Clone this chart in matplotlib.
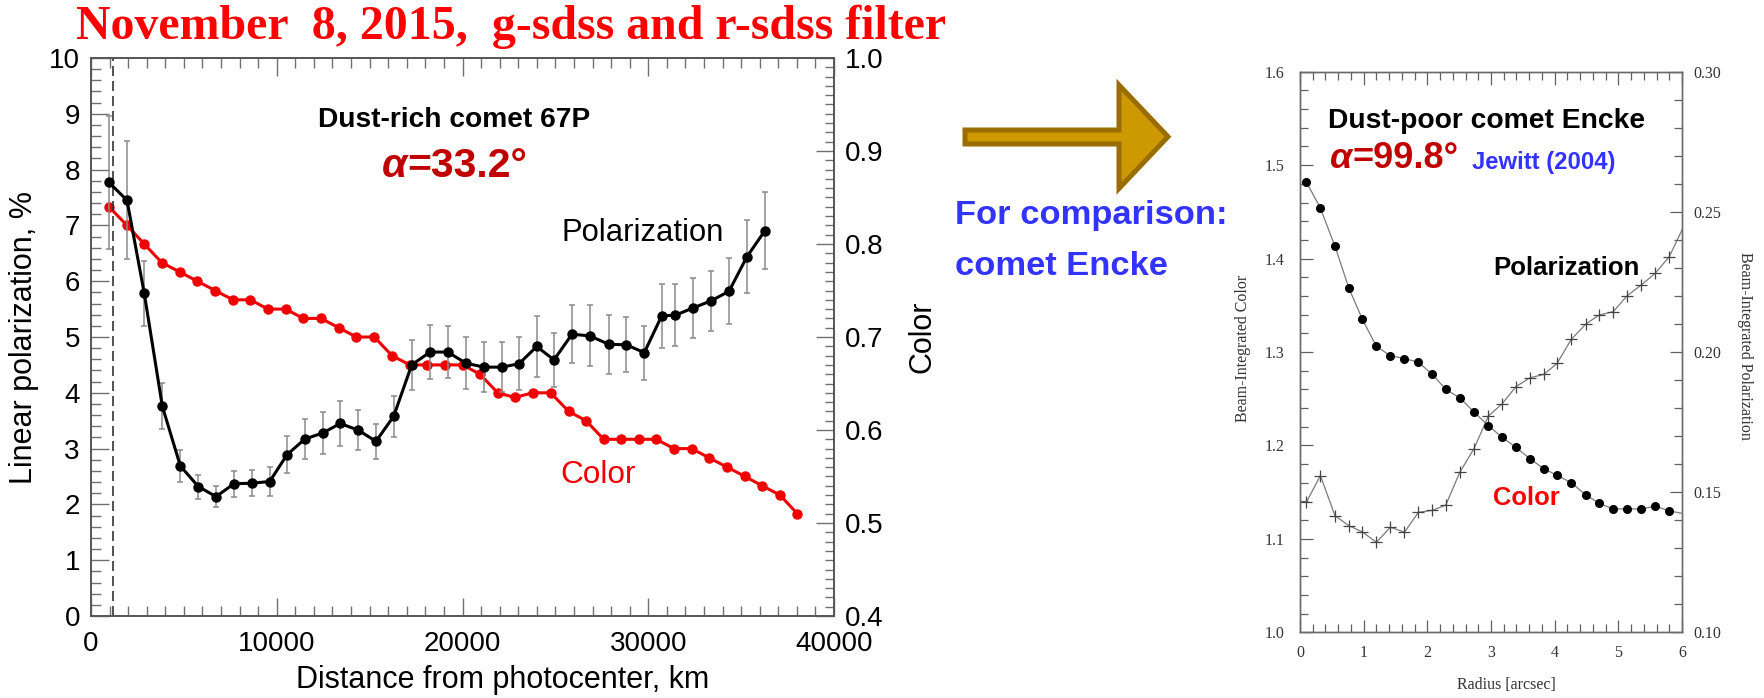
import matplotlib
matplotlib.use("Agg")
import matplotlib.pyplot as plt
from matplotlib.ticker import MultipleLocator, FormatStrFormatter
from matplotlib.patches import Polygon
from matplotlib import font_manager as fm

# ---------------- data: comet 67P (left panel) ----------------
pol_km = [969, 1938, 2869, 3839, 4808, 5777, 6730, 7699, 8668, 9620,
          10552, 11505, 12474, 13421, 14390, 15343, 16296, 17265, 18250, 19203,
          20189, 21158, 22111, 23042, 23995, 24926, 25895, 26848, 27871, 28818,
          29787, 30724, 31457, 32409, 33395, 34347, 35316, 36269]
pol_val = [7.77, 7.45, 5.78, 3.76, 2.69, 2.32, 2.14, 2.37, 2.38, 2.41,
           2.89, 3.17, 3.28, 3.45, 3.33, 3.13, 3.58, 4.50, 4.73, 4.73,
           4.53, 4.46, 4.46, 4.52, 4.83, 4.59, 5.05, 5.02, 4.87, 4.86,
           4.72, 5.38, 5.39, 5.52, 5.65, 5.82, 6.44, 6.90]
pol_err = [1.19, 1.06, 0.59, 0.41, 0.29, 0.215, 0.195, 0.23, 0.23, 0.255,
           0.33, 0.36, 0.375, 0.395, 0.36, 0.315, 0.37, 0.455, 0.49, 0.47,
           0.465, 0.445, 0.445, 0.475, 0.55, 0.48, 0.515, 0.545, 0.525, 0.49,
           0.485, 0.575, 0.56, 0.545, 0.54, 0.59, 0.655, 0.69]

col_km = [969, 1938, 2869, 3806, 4775, 5723, 6676, 7645, 8576, 9529,
          10482, 11429, 12382, 13335, 14283, 15252, 16205, 17158, 18105, 19058,
          20011, 20942, 21895, 22826, 23779, 24748, 25717, 26649, 27602, 28549,
          29486, 30434, 31386, 32339, 33287, 34256, 35209, 36140, 37093, 38025]
col_val = [0.840, 0.820, 0.800, 0.780, 0.770, 0.760, 0.750, 0.740, 0.740, 0.730,
           0.730, 0.720, 0.720, 0.710, 0.700, 0.700, 0.680, 0.670, 0.670, 0.670,
           0.670, 0.660, 0.640, 0.635, 0.640, 0.640, 0.620, 0.610, 0.590, 0.590,
           0.590, 0.590, 0.580, 0.580, 0.570, 0.560, 0.550, 0.540, 0.530, 0.510]
aperture_km = 1168

# ---------------- data: comet Encke (right panel, Jewitt 2004) ----------------
enc_r = [0.10, 0.32, 0.55, 0.77, 0.98, 1.20, 1.42, 1.64, 1.86, 2.08,
         2.29, 2.51, 2.73, 2.96, 3.17, 3.39, 3.61, 3.83, 4.04, 4.26,
         4.49, 4.70, 4.92, 5.14, 5.36, 5.58, 5.80, 6.02]
enc_color = [1.482, 1.454, 1.413, 1.368, 1.335, 1.306, 1.296, 1.293, 1.289, 1.276,
             1.260, 1.251, 1.236, 1.221, 1.209, 1.198, 1.186, 1.175, 1.168, 1.160,
             1.147, 1.138, 1.132, 1.132, 1.132, 1.135, 1.130, 1.127]
enc_pol = [0.1464, 0.1559, 0.1416, 0.1380, 0.1358, 0.1321, 0.1375, 0.1357, 0.1428, 0.1435,
           0.1454, 0.1571, 0.1654, 0.1772, 0.1814, 0.1876, 0.1908, 0.1920, 0.1960, 0.2045,
           0.2100, 0.2132, 0.2144, 0.2201, 0.2239, 0.2281, 0.2340, 0.2445]
n_marked = 27

# ---------------- figure ----------------
W, H = 1764, 698
plt.rcParams["font.family"] = ["Liberation Sans", "DejaVu Sans"]
fig = plt.figure(figsize=(W / 100, H / 100), dpi=100)
fig.patch.set_facecolor("white")

names = {f.name for f in fm.fontManager.ttflist}
SANS = "Liberation Sans"
NARROW = "Liberation Sans Narrow" if "Liberation Sans Narrow" in names else SANS
SERIF = "Liberation Serif"

RED = "#F00000"
DARKRED = "#C00000"
BLUE = "#3333FF"

# ---------------- left panel ----------------
ax = fig.add_axes([91 / W, 1 - 616 / H, (834 - 91) / W, (616 - 58) / H])
ax2 = ax.twinx()
ax.set_zorder(ax2.get_zorder() + 1)
ax.patch.set_visible(False)

ax.set_xlim(0, 40000)
ax.set_ylim(0, 10)
ax2.set_ylim(0.4, 1.0)
ax.xaxis.set_major_locator(MultipleLocator(10000))
ax.xaxis.set_minor_locator(MultipleLocator(1000))
ax.yaxis.set_major_locator(MultipleLocator(1))
ax.yaxis.set_minor_locator(MultipleLocator(0.2))
ax2.yaxis.set_major_locator(MultipleLocator(0.1))
ax2.yaxis.set_minor_locator(MultipleLocator(0.01))
ax2.yaxis.set_major_formatter(FormatStrFormatter("%.1f"))

for a in (ax, ax2):
    for s in a.spines.values():
        s.set_color("#555555")
        s.set_linewidth(1.2)
ax.tick_params(which="both", direction="in", top=True, right=False,
               color="#707070", width=1.0, labelsize=20, labelcolor="black")
ax.tick_params(which="major", length=13, pad=8)
ax.tick_params(which="minor", length=7)
ax.tick_params(axis="x", which="major", pad=11)
ax2.tick_params(which="both", direction="in", right=True, left=False,
                color="#707070", width=1.0, labelsize=20, labelcolor="black")
ax2.tick_params(which="major", length=13, pad=8)
ax2.tick_params(which="minor", length=6.5)

ax.axvline(aperture_km, color="#333333", lw=1.2, ls=(0, (6, 3)), zorder=1)
ax2.plot(col_km, col_val, "-o", color=RED, lw=2.2, ms=6.5, zorder=3)
ax.errorbar(pol_km, pol_val, yerr=pol_err, fmt="none", ecolor="#8a8a8a",
            elinewidth=1.1, capsize=2.5, capthick=1.1, zorder=2)
ax.plot(pol_km, pol_val, "-o", color="black", lw=2.2, ms=6.5, zorder=4)

ax.set_xlabel("Distance from photocenter, km", fontsize=22)
ax.xaxis.set_label_coords(0.5545, -0.1296)
ax.xaxis.label.set_verticalalignment("baseline")
ax.set_ylabel("Linear polarization, %", fontsize=22)
ax.yaxis.set_label_coords((24 - 91) / 743, 0.5)
ax.yaxis.label.set_verticalalignment("center")
ax2.set_ylabel("Color", fontsize=22, rotation=90)
ax2.yaxis.set_label_coords((922.3 - 91) / 743, 0.5)
ax2.yaxis.label.set_verticalalignment("center")

# ---------------- right panel ----------------
bx = fig.add_axes([1300 / W, 1 - 632.3 / H, 382 / W, 560.6 / H])
bx2 = bx.twinx()
bx.set_zorder(bx2.get_zorder() + 1)
bx.patch.set_visible(False)
bx.set_xlim(0, 6)
bx.set_ylim(1.0, 1.6)
bx2.set_ylim(0.10, 0.30)
bx.xaxis.set_major_locator(MultipleLocator(1))
bx.xaxis.set_minor_locator(MultipleLocator(0.2))
bx.yaxis.set_major_locator(MultipleLocator(0.1))
bx.yaxis.set_minor_locator(MultipleLocator(0.02))
bx2.yaxis.set_major_locator(MultipleLocator(0.05))
bx2.yaxis.set_minor_locator(MultipleLocator(0.01))
bx.xaxis.set_major_formatter(FormatStrFormatter("%d"))
bx.yaxis.set_major_formatter(FormatStrFormatter("%.1f"))
bx2.yaxis.set_major_formatter(FormatStrFormatter("%.2f"))
for a in (bx, bx2):
    for s in a.spines.values():
        s.set_color("#6a6a6a")
        s.set_linewidth(1.0)
bx.tick_params(which="both", direction="in", top=True, right=False,
               color="#606060", width=0.9, labelsize=11.5, labelcolor="#333333")
bx.tick_params(which="major", length=9, pad=11)
bx.tick_params(which="minor", length=5.5)
bx.tick_params(axis="x", which="major", pad=9)
bx2.tick_params(which="both", direction="in", right=True, left=False,
                color="#606060", width=0.9, labelsize=11.5, labelcolor="#333333")
bx2.tick_params(which="major", length=9, pad=8)
bx2.tick_params(which="minor", length=5.5)

bx2.plot(enc_r, enc_pol, "-", color="#7a7a7a", lw=0.9, marker="+", ms=9,
         mew=0.9, mec="#444444", markevery=slice(0, n_marked), zorder=2)
bx.plot(enc_r, enc_color, "-", color="#7a7a7a", lw=0.9, marker="o", ms=5.5,
        mfc="black", mec="black", markevery=slice(0, n_marked), zorder=3)

bx.set_xlabel("Radius [arcsec]", fontsize=11.5, family=SERIF, color="#333333")
bx.xaxis.set_label_coords((1506 - 1300) / 382, (632.3 - 689) / 560.6)
bx.xaxis.label.set_verticalalignment("baseline")
bx.set_ylabel("Beam-Integrated Color", fontsize=11.5, family=SERIF, color="#333333")
bx.yaxis.set_label_coords((1243 - 1300) / 382, (632.3 - 348) / 560.6)
bx.yaxis.label.set_verticalalignment("center")
bx2.set_ylabel("Beam-Integrated Polarization", fontsize=11.5, family=SERIF,
               color="#333333", rotation=270)
bx2.yaxis.set_label_coords((1745 - 1300) / 382, (632.3 - 346) / 560.6)
bx2.yaxis.label.set_verticalalignment("center")

for a in (bx, bx2):
    for lbl in (a.get_xticklabels(which="both") + a.get_yticklabels(which="both")):
        lbl.set_family(SERIF)
    for t in a.xaxis.get_major_ticks() + a.yaxis.get_major_ticks():
        t.label1.set_family(SERIF)
        t.label2.set_family(SERIF)

# ---------------- free texts ----------------
renderer = fig.canvas.get_renderer()


def fit_text(segs, x_px, base_px, width_px, color, family, weight="bold",
             fs0=20.0, fs=None):
    ts = [fig.text(0, 0, s, fontsize=fs0, family=family, weight=weight,
                   style=st, color=color, va="baseline", ha="left")
          for s, st in segs]
    if fs is None:
        tot = sum(t.get_window_extent(renderer).width for t in ts)
        fs = fs0 * width_px / tot
    x = x_px
    for t in ts:
        t.set_fontsize(fs)
        t.set_position((x / W, 1 - base_px / H))
        x += t.get_window_extent(renderer).width
    return fs


fit_text([("November  8, 2015,  g-sdss and r-sdss filter", "normal")],
         76, 39.3, 870, "#FF0000", SERIF)

fit_text([("Dust-rich comet 67P", "normal")], 318, 126.7, 272, "black", NARROW)
fit_text([("α", "italic"), ("=33.2°", "normal")], 381.7, 176.7, 146, DARKRED, SANS)
fit_text([("Polarization", "normal")], 561.7, 240.7, 161.6, "black", SANS, weight="normal")
fit_text([("Color", "normal")], 560, 482.7, 75, RED, SANS, weight="normal")

fs_cmp = fit_text([("For comparison:", "normal")], 955, 224.3, 271.7, BLUE, SANS)
fit_text([("comet Encke", "normal")], 955, 275, None, BLUE, SANS, fs=fs_cmp)

fit_text([("Dust-poor comet Encke", "normal")], 1328.3, 128.3, 316.7, "black", NARROW)
fit_text([("α", "italic"), ("=99.8°", "normal")], 1330, 168.3, 128.3, DARKRED, SANS)
fit_text([("Jewitt (2004)", "normal")], 1471.7, 169.5, 143.3, BLUE, SANS)
fit_text([("Polarization", "normal")], 1493.3, 275, 146.7, "black", NARROW)
fit_text([("Color", "normal")], 1493.3, 505, 66.7, "#FF0000", NARROW)

# ---------------- arrow ----------------
arrow_px = [(965, 130), (1119, 130), (1119, 85), (1168, 136.7),
            (1119, 188.5), (1119, 144), (965, 144)]
arrow = Polygon([(x / W, 1 - y / H) for x, y in arrow_px], closed=True,
                transform=fig.transFigure, facecolor="#CC9900",
                edgecolor="#9A6D00", lw=3.6, joinstyle="miter")
fig.add_artist(arrow)

fig.savefig("out.png", dpi=100)
